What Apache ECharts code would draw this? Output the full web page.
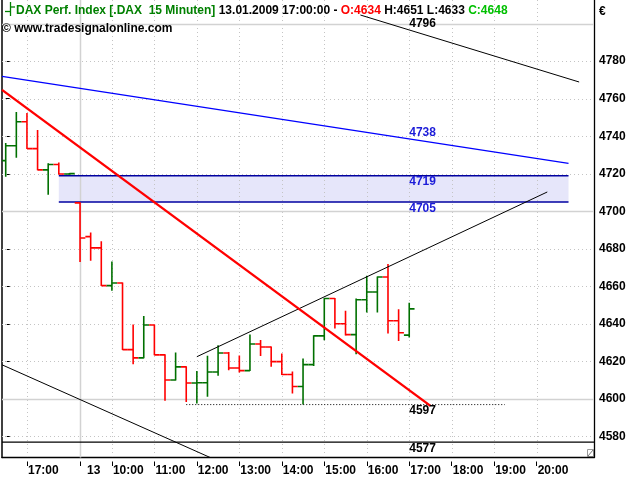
<!DOCTYPE html>
<html><head><meta charset="utf-8">
<script src="https://cdn.jsdelivr.net/npm/echarts@6/dist/echarts.min.js"></script>
<style>html,body{margin:0;padding:0;background:#fff}#c{width:640px;height:480px}</style>
</head><body><div id="c"></div>
<script>
// ---- data (15-minute OHLC bars, slot index = position on the time axis) ----
const opens  = [4727.0,4734.9,4747.7,4733.4,4722.1,4724.9,4719.9,4704.5,4686.5,4680.5,4660.4,4661.8,4626.3,4621.9,4639.4,4623.5,4610.1,4617.1,4608.5,4608.6,4614.4,4624.5,4616.5,4615.1,4629.3,4627.7,4619.9,4613.0,4606.6,4618.3,4633.6,4653.5,4640.1,4634.3,4652.9,4657.0,4665.0,4641.7,4634];
const highs  = [4736.1,4752.6,4752.1,4743.0,4725.4,4725.8,4720.2,4704.5,4688.5,4683.8,4673.0,4661.8,4639.4,4643.9,4639.4,4623.5,4624.5,4617.1,4614.6,4622.7,4628.4,4624.8,4622.9,4634.1,4631.1,4627.7,4624.0,4614.4,4621.3,4633.7,4653.5,4653.5,4646.7,4653.3,4665.4,4665.0,4671.6,4647.6,4651];
const lows   = [4718.7,4728.8,4733.4,4722.1,4709.1,4719.9,4719.8,4673.3,4673.9,4660.4,4657.9,4626.3,4618.7,4621.9,4623.5,4599.3,4610.1,4598.7,4597.9,4601.4,4612.6,4615.6,4614.4,4615.1,4623.2,4617.4,4613.0,4603.2,4597.3,4617.8,4631.6,4637.8,4634.1,4624.1,4646.4,4646.4,4635.2,4631.2,4633];
const closes = [4734.9,4747.7,4733.4,4722.1,4724.9,4719.9,4720.1,4685.8,4680.5,4660.4,4661.8,4626.3,4621.9,4639.4,4623.5,4610.1,4617.1,4608.5,4608.6,4614.4,4624.5,4616.5,4615.1,4629.3,4627.7,4619.9,4613.0,4606.6,4618.3,4633.6,4653.5,4640.1,4634.3,4652.9,4657.0,4665.0,4641.7,4635.3,4648];

// time-axis ticks
const tickSlots  = [2,7,10,14,18,22,26,30,34,38,42,46,50];
const tickLabels = ['17:00','13','10:00','11:00','12:00','13:00','14:00','15:00','16:00','17:00','18:00','19:00','20:00'];
const daySlot = 7;

// price-axis ticks and grid levels
const yTickValues = [4580,4600,4620,4640,4660,4680,4700,4720,4740,4760,4780];
const gridLevels  = [4580,4600,4620,4640,4660,4680,4700,4720,4740,4760,4780,4800];
const solidLevels = [4600,4700,4800];

// drawn objects: [slot, price] end points
const blueLine       = [[-0.35,4771.9],[53,4725.5]];
const redLine        = [[-0.35,4764.7],[40,4596.3]];
const topBlackLine   = [[33.4,4804.6],[54,4768.9]];
const riseBlackLine  = [[18,4622.5],[51,4710.3]];
const lowBlackLine   = [[-0.35,4618.2],[21,4564.4]];
const bandSlots = [5,53];
const bandTop = 4719, bandBottom = 4705;
const lowLevel = 4597, lowSlots = [17,47];
const supportLevel = 4577;

// value labels shown at the current bar
const labelSlot = 38;
const levelTexts  = ['4796','4738','4719','4705','4597','4577'];
const levelValues = [4796,4738,4719,4705,4597,4577];
const levelAbove  = [true,true,false,false,false,false];
const levelBlue   = [false,true,true,true,false,false];

// header
const title = 'DAX Perf. Index [.DAX  15 Minuten]';
const stamp = '13.01.2009 17:00:00';
const source = '\u00A9 www.tradesignalonline.com';

// ---- chart ----
const X_MIN = -0.35, X_MAX = 55.4, Y_MIN = 4568.8, Y_MAX = 4812.6;
const GREEN = '#007000', RED = '#ff0000', BLUE = '#1c1cd8';
const FF = '"Liberation Sans", Arial, sans-serif';
const FONT = 'bold 12px ' + FF;

const chart = echarts.init(document.getElementById('c'));
const ohlc = opens.map((o,i)=>[i,o,highs[i],lows[i],closes[i]]);
const last = ohlc.length-1;

function lineSeries(data, color, width, type, z){
  return {type:'line', data:data, showSymbol:false, symbol:'none', silent:true, animation:false, z:z||5,
    lineStyle:{color:color, width:width, type:type||'solid'}, xAxisIndex:0, yAxisIndex:0};
}

const option = {
  animation:false,
  grid:{left:2, right:46, top:0, bottom:22.5, containLabel:false},
  xAxis:[
    {type:'value', min:X_MIN, max:X_MAX, position:'bottom',
     axisLine:{show:true, onZero:false, lineStyle:{color:'#000', width:1.3}},
     axisTick:{show:false}, axisLabel:{show:false}, splitLine:{show:false}},
    {type:'value', min:X_MIN, max:X_MAX, position:'bottom', offset:4,
     axisLine:{show:false}, splitLine:{show:false},
     axisTick:{show:true, length:4.5, customValues:tickSlots, lineStyle:{color:'#000', width:1}},
     axisLabel:{show:true, customValues:tickSlots, align:'left', margin:3,
       color:'#000', fontFamily:FF, fontWeight:'bold', fontSize:12,
       formatter:function(v){ const i = tickSlots.indexOf(Math.round(v)); const t = i>=0?tickLabels[i]:'';
         return Math.round(v)===daySlot ? '{d|'+t+'}' : '{n|'+t+'}'; },
       rich:{d:{padding:[0,0,0,7], color:'#000', fontFamily:FF, fontWeight:'bold', fontSize:12},
             n:{padding:[0,0,0,1], color:'#000', fontFamily:FF, fontWeight:'bold', fontSize:12}}}}
  ],
  yAxis:[
    {type:'value', min:Y_MIN, max:Y_MAX, position:'right',
     axisLine:{show:true, onZero:false, lineStyle:{color:'#000', width:1.3}},
     axisTick:{show:false}, axisLabel:{show:false}, splitLine:{show:false}},
    {type:'value', min:Y_MIN, max:Y_MAX, position:'right', offset:3,
     axisLine:{show:false}, splitLine:{show:false},
     axisTick:{show:true, length:4, customValues:yTickValues, lineStyle:{color:'#000', width:1}},
     axisLabel:{show:true, customValues:yTickValues, margin:2, color:'#000', fontFamily:FF, fontWeight:'bold', fontSize:12,
       formatter:function(v){ return String(Math.round(v)); }}},
    {type:'value', min:Y_MIN, max:Y_MAX, position:'left',
     axisLine:{show:true, onZero:false, lineStyle:{color:'#000', width:1.5}},
     axisTick:{show:false}, axisLabel:{show:false}, splitLine:{show:false}}
  ],
  series:[
    // band fill (below grid)
    {type:'custom', z:1, silent:true, data:[[bandSlots[0],bandTop,bandSlots[1],bandBottom]],
     renderItem:function(p, api){
       const a = api.coord([api.value(0), api.value(1)]), b = api.coord([api.value(2), api.value(3)]);
       return {type:'rect', shape:{x:a[0], y:a[1], width:b[0]-a[0], height:b[1]-a[1]}, style:{fill:'#e6e6fa'}};
     }},
    // vertical grid lines
    {type:'custom', z:2, silent:true, data:tickSlots.map(s=>[s]),
     renderItem:function(p, api){
       const cs = p.coordSys; const s = api.value(0); const x = Math.round(api.coord([s, Y_MIN])[0])+0.5;
       const solid = s===daySlot;
       return {type:'line', shape:{x1:x, y1:cs.y, x2:x, y2:cs.y+cs.height},
         style:{stroke: solid?'#d2d2d2':'#c4c4c4', lineWidth: solid?1.5:1, lineDash: solid?null:[1,3]}};
     }},
    // horizontal grid lines
    {type:'custom', z:2, silent:true, data:gridLevels.map(v=>[v]),
     renderItem:function(p, api){
       const cs = p.coordSys; const v = api.value(0); const y = Math.round(api.coord([X_MIN, v])[1])+0.5;
       const solid = solidLevels.indexOf(v)>=0;
       return {type:'line', shape:{x1:cs.x, y1:y, x2:cs.x+cs.width, y2:y},
         style:{stroke: solid?'#d2d2d2':'#c4c4c4', lineWidth: solid?1.5:1, lineDash: solid?null:[1,3]}};
     }},
    // band borders
    lineSeries([[bandSlots[0],bandTop],[bandSlots[1],bandTop]], '#0000a0', 1.5, 'solid', 4),
    lineSeries([[bandSlots[0],bandBottom],[bandSlots[1],bandBottom]], '#0000a0', 1.5, 'solid', 4),
    // OHLC bars
    {type:'custom', z:6, silent:true, data:ohlc, clip:true,
     renderItem:function(p, api){
       const s=api.value(0), o=api.value(1), h=api.value(2), l=api.value(3), c=api.value(4);
       const half = api.size([1,0])[0]/2;
       const pH=api.coord([s,h]), pL=api.coord([s,l]), pO=api.coord([s,o]), pC=api.coord([s,c]);
       const st = {stroke: c>=o?GREEN:RED, lineWidth:1.6};
       return {type:'group', children:[
         {type:'line', shape:{x1:pH[0], y1:pH[1]-0.5, x2:pL[0], y2:pL[1]+0.5}, style:st},
         {type:'line', shape:{x1:pO[0]-half, y1:pO[1], x2:pO[0], y2:pO[1]}, style:st},
         {type:'line', shape:{x1:pC[0], y1:pC[1], x2:pC[0]+half, y2:pC[1]}, style:st}
       ]};
     }},
    // trend lines
    lineSeries(blueLine, '#0000ff', 1.3, 'solid', 7),
    lineSeries(topBlackLine, '#000', 1, 'solid', 7),
    lineSeries(riseBlackLine, '#000', 1, 'solid', 7),
    lineSeries(lowBlackLine, '#000', 1, 'solid', 7),
    lineSeries([[X_MIN,supportLevel],[X_MAX,supportLevel]], '#000', 1.2, 'solid', 7),
    lineSeries([[lowSlots[0],lowLevel],[lowSlots[1],lowLevel]], '#000', 1, [1,2], 7),
    lineSeries(redLine, '#ff0000', 2.4, 'solid', 8),
    // level labels
    {type:'custom', z:9, silent:true, data:levelValues.map((v,i)=>[labelSlot, v, i]),
     renderItem:function(p, api){
       const i = api.value(2); const pt = api.coord([api.value(0), api.value(1)]);
       return {type:'text', x:pt[0], y: levelAbove[i] ? pt[1]-7.5 : pt[1]+6.5,
         style:{text:levelTexts[i], fill: levelBlue[i]?BLUE:'#000', font:FONT, align:'left', verticalAlign:'middle'}};
     }}
  ],
  graphic:[
    {type:'group', z:20, children:[
      {type:'line', shape:{x1:10.5, y1:2, x2:10.5, y2:16}, style:{stroke:'#008000', lineWidth:1.3}},
      {type:'line', shape:{x1:5, y1:11.5, x2:10.5, y2:11.5}, style:{stroke:'#008000', lineWidth:1.3}},
      {type:'line', shape:{x1:10.5, y1:7, x2:15, y2:7}, style:{stroke:'#008000', lineWidth:1.3}}
    ]},
    {type:'text', z:20, style:{x:16, y:10.5, verticalAlign:'middle', align:'left', font:FONT,
      text:'{g|'+title+'}{k| '+stamp+' - }{r|O:'+Math.round(opens[last])+'}{k| H:'+Math.round(highs[last])+' L:'+Math.round(lows[last])+' }{c|C:'+Math.round(closes[last])+'}',
      rich:{g:{fill:'#008000', font:FONT}, k:{fill:'#000', font:FONT}, r:{fill:'#ff0000', font:FONT}, c:{fill:'#00c000', font:FONT}}}},
    {type:'text', z:20, style:{x:2, y:28.5, verticalAlign:'middle', align:'left', font:FONT, fill:'#000', text:source}},
    {type:'text', z:20, style:{x:599, y:12, verticalAlign:'middle', align:'left', font:FONT, fill:'#000', text:'\u20AC'}},
    {type:'group', z:20, children:[
      {type:'rect', shape:{x:587.5, y:449.5, width:6, height:7}, style:{fill:'#fff', stroke:'#999', lineWidth:1}},
      {type:'line', shape:{x1:588, y1:456, x2:593, y2:450}, style:{stroke:'#777', lineWidth:1}}
    ]}
  ]
};
chart.setOption(option);
</script></body></html>
